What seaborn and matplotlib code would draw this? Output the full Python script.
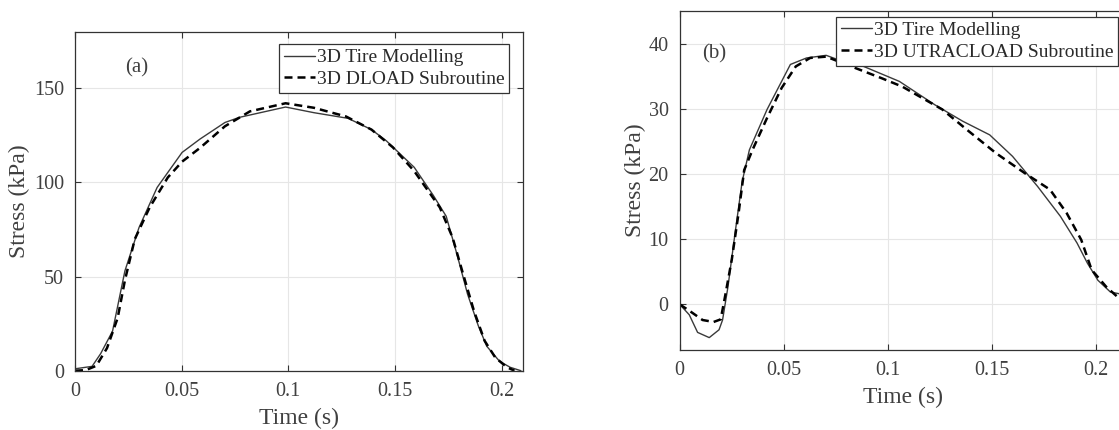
import matplotlib
matplotlib.use("Agg")
import matplotlib.pyplot as plt
import seaborn as sns
import pandas as pd
import numpy as np

# ---------- data (a) ----------
time_a_tire = [0.0, 0.008, 0.012, 0.0176, 0.0234, 0.030, 0.0385, 0.0502, 0.0586, 0.0703,
               0.077, 0.0987, 0.112, 0.128, 0.139, 0.146, 0.159, 0.168, 0.174, 0.179,
               0.184, 0.189, 0.193, 0.199, 0.204, 0.209]
stress_a_tire = [1.0, 2.3, 9.0, 21.0, 53.0, 76.0, 97.3, 115.9, 123.0, 131.8,
                 134.5, 140.0, 137.0, 134.0, 128.0, 122.0, 108.0, 93.0, 82.0, 62.0,
                 40.7, 24.0, 13.0, 5.0, 1.8, 0.0]
time_a_dload = [0.0, 0.005, 0.010, 0.015, 0.020, 0.0234, 0.028, 0.035, 0.0435, 0.0502,
                0.0586, 0.0703, 0.082, 0.0987, 0.112, 0.127, 0.139, 0.149, 0.159, 0.171,
                0.177, 0.182, 0.187, 0.192, 0.197, 0.2025, 0.206]
stress_a_dload = [0.0, 0.3, 2.6, 12.0, 28.0, 48.0, 69.8, 86.7, 102.6, 111.0,
                  118.3, 129.8, 137.7, 142.0, 139.6, 135.0, 128.0, 118.6, 106.0, 86.7,
                  70.7, 51.0, 31.8, 15.9, 7.0, 1.8, 0.0]

# ---------- data (b) ----------
time_b_tire = [0.0, 0.0046, 0.0086, 0.0142, 0.0189, 0.0206, 0.0232, 0.0266, 0.030, 0.0335,
               0.042, 0.0532, 0.061, 0.0704, 0.0781, 0.0884, 0.1056, 0.1227, 0.136, 0.149,
               0.160, 0.172, 0.183, 0.191, 0.196, 0.201, 0.207, 0.2117]
stress_b_tire = [0.0, -1.6, -4.3, -5.1, -3.9, -2.4, 2.7, 10.9, 18.8, 23.7,
                 29.9, 36.8, 37.8, 38.2, 37.3, 36.5, 34.2, 30.6, 28.1, 26.0,
                 22.7, 18.1, 13.5, 9.4, 6.3, 3.7, 1.9, 1.6]
time_b_utra = [0.0, 0.0043, 0.011, 0.0163, 0.0197, 0.0215, 0.025, 0.0283, 0.031, 0.035,
               0.042, 0.049, 0.0558, 0.0627, 0.0704, 0.080, 0.097, 0.107, 0.1262, 0.138,
               0.152, 0.166, 0.178, 0.186, 0.193, 0.198, 0.205, 0.212]
stress_b_utra = [0.0, -0.9, -2.4, -2.7, -2.3, 0.7, 6.8, 14.0, 20.6, 23.7,
                 28.6, 33.2, 36.5, 37.8, 38.0, 36.8, 34.7, 33.4, 29.9, 26.8,
                 23.2, 20.1, 17.6, 14.0, 9.9, 5.3, 2.7, 0.7]

labels_a = ["3D Tire Modelling", "3D DLOAD Subroutine"]
labels_b = ["3D Tire Modelling", "3D UTRACLOAD Subroutine"]
xticks = [0, 0.05, 0.1, 0.15, 0.2]
xticklabels = ["0", "0.05", "0.1", "0.15", "0.2"]

sns.set_theme(style="white")
plt.rcParams['font.family'] = ['Liberation Serif', 'DejaVu Serif']

W, H = 1119, 430
fig = plt.figure(figsize=(W / 100, H / 100), dpi=100)
fig.patch.set_facecolor("white")

ax_a = fig.add_axes([75 / W, (H - 370.7) / H, 448 / W, 339 / H])
ax_b = fig.add_axes([679.7 / W, (H - 350) / H, 447.3 / W, 339 / H])

text_c = "#404040"
spine_c = "#333333"
dash_style = (0, (3.2, 2.0))

def style_axes(ax, ylabelpad):
    ax.grid(True, color="#e6e6e6", linewidth=0.8)
    ax.set_axisbelow(True)
    for s in ax.spines.values():
        s.set_visible(True)
        s.set_color(spine_c)
        s.set_linewidth(0.9)
    ax.tick_params(direction="in", length=4, width=0.8, color=spine_c,
                   labelsize=14.5, labelcolor=text_c, pad=8,
                   top=True, right=True, bottom=True, left=True)
    ax.set_xticks(xticks)
    ax.set_xticklabels(xticklabels)
    ax.set_xlabel("Time (s)", fontsize=17, color=text_c, labelpad=5)
    ax.set_ylabel("Stress (kPa)", fontsize=17, color=text_c, labelpad=ylabelpad)

def draw(ax, t1, s1, t2, s2, labels):
    df1 = pd.DataFrame({"t": t1, "s": s1})
    df2 = pd.DataFrame({"t": t2, "s": s2})
    sns.lineplot(data=df1, x="t", y="s", ax=ax, color="#3a3a3a", linewidth=1.0,
                 label=labels[0], estimator=None, sort=False)
    sns.lineplot(data=df2, x="t", y="s", ax=ax, color="black", linewidth=1.8,
                 linestyle=dash_style, label=labels[1], estimator=None, sort=False)

draw(ax_a, time_a_tire, stress_a_tire, time_a_dload, stress_a_dload, labels_a)
draw(ax_b, time_b_tire, stress_b_tire, time_b_utra, stress_b_utra, labels_b)

style_axes(ax_a, 3)
style_axes(ax_b, 2)

ax_a.set_xlim(0, 0.21)
ax_a.set_ylim(0, 180)
ax_a.set_yticks([0, 50, 100, 150])
ax_b.set_xlim(0, 0.215)
ax_b.set_ylim(-7, 45)
ax_b.set_yticks([0, 10, 20, 30, 40])

ax_a.text(0.029, 161, "(a)", fontsize=15, color=text_c, ha="center", va="center")
ax_b.text(0.0165, 38.4, "(b)", fontsize=15, color=text_c, ha="center", va="center")

def make_legend(ax, anchor):
    leg = ax.legend(loc="upper right", bbox_to_anchor=anchor, borderaxespad=0,
                    fontsize=14, frameon=True, fancybox=False, handlelength=1.6,
                    handletextpad=0.1, labelspacing=0.2, borderpad=0.25)
    fr = leg.get_frame()
    fr.set_edgecolor("#333333")
    fr.set_linewidth(0.9)
    fr.set_facecolor("white")
    fr.set_alpha(1)
    for t in leg.get_texts():
        t.set_color("#2a2a2a")
    return leg

make_legend(ax_a, (0.969, 0.964))
make_legend(ax_b, (0.980, 0.983))

fig.savefig("out.png", dpi=100, facecolor="white")
